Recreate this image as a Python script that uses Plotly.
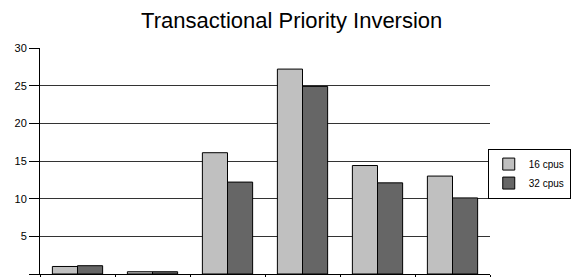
import plotly.graph_objects as go

categories = ["A", "B", "C", "D", "E", "F"]
cpus16 = [1.0, 0.3, 16.1, 27.2, 14.4, 13.0]
cpus32 = [1.1, 0.3, 12.2, 24.9, 12.1, 10.1]
series_names = ["16 cpus", "32 cpus"]
y_ticks = [0, 5, 10, 15, 20, 25, 30]

fig = go.Figure()
fig.add_trace(go.Bar(x=categories, y=cpus16, name=series_names[0],
                     marker=dict(color="#c0c0c0", line=dict(color="#000000", width=1))))
fig.add_trace(go.Bar(x=categories, y=cpus32, name=series_names[1],
                     marker=dict(color="#666666", line=dict(color="#000000", width=1))))

fig.update_layout(
    template="none",
    width=572, height=277,
    margin=dict(l=40, r=82, t=48, b=3, pad=0, autoexpand=False),
    paper_bgcolor="white", plot_bgcolor="white",
    font=dict(family="Liberation Sans, Arial, sans-serif", size=11, color="#000000"),
    title=dict(text="Transactional Priority Inversion", x=0.51, xanchor="center",
               y=0.926, yanchor="middle",
               font=dict(size=22, family="Liberation Sans, Arial, sans-serif")),
    barmode="group", bargap=0.33, bargroupgap=0.0,
    showlegend=True,
    legend=dict(x=0.995, y=0.555, xanchor="left", yanchor="top",
                bordercolor="#000000", borderwidth=1, bgcolor="white",
                font=dict(size=10), tracegroupgap=0, itemwidth=30),
    xaxis=dict(showline=True, linecolor="#000000", linewidth=1,
               ticks="outside", tickson="boundaries", ticklen=4, tickcolor="#000000",
               showticklabels=False, showgrid=False, automargin=False, zeroline=False),
    yaxis=dict(range=[0, 30], tickvals=y_ticks, showline=True, linecolor="#000000",
               linewidth=1, ticks="outside", ticklen=10, tickcolor="#000000",
               showgrid=True, gridcolor="#333333", gridwidth=1, automargin=False,
               zeroline=False, tickfont=dict(size=11)),
)

fig.write_html("out.html", config={"displayModeBar": False},
               post_script="document.body.style.margin='0';")
